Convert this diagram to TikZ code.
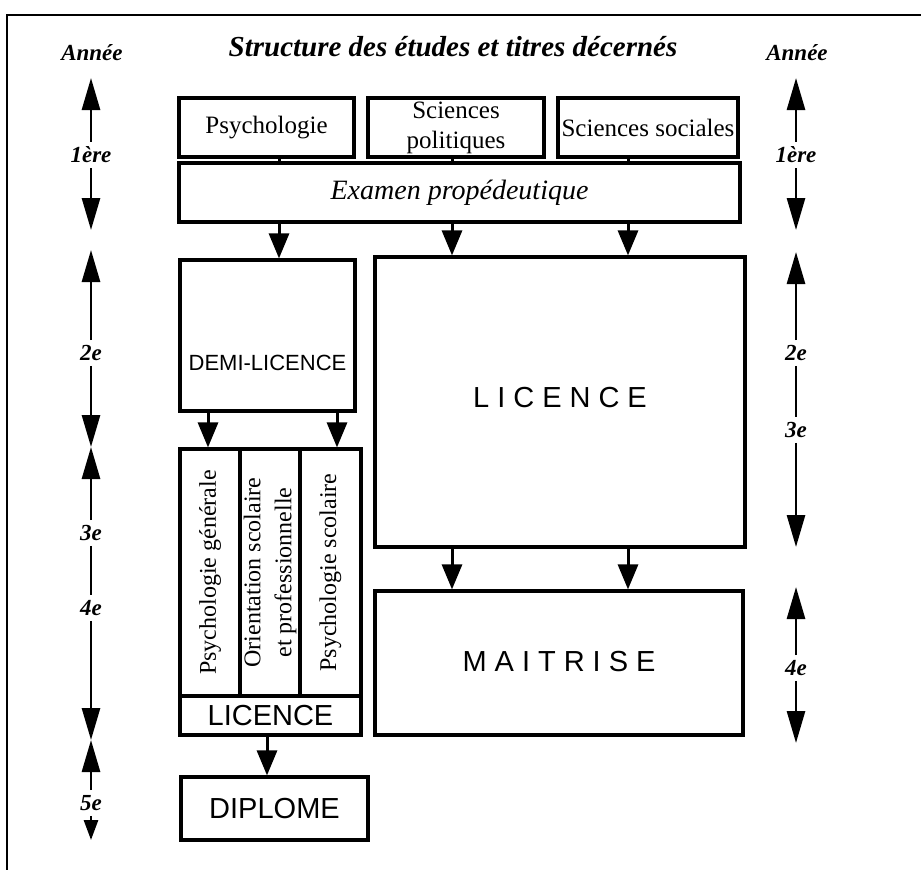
\documentclass[tikz,border=0pt]{standalone}
\usepackage{fontspec}
\setmainfont{Liberation Serif}
\newfontfamily\helv{Liberation Sans}
\usetikzlibrary{arrows.meta}
\begin{document}
\begin{tikzpicture}[x=1pt,y=-1pt,
  box/.style={draw, line width=3.2pt, inner sep=0pt, align=center, font=\fontsize{25}{30}\selectfont},
  sbox/.style={box, font=\helv\fontsize{29}{34}\selectfont},
  conn/.style={line width=3pt, -{Triangle[length=25pt,width=20pt]}},
  link/.style={line width=3pt},
  yr/.style={font=\bfseries\itshape\fontsize{23}{26}\selectfont, inner sep=5pt},
  yarr/.style={line width=2.8pt, -{Triangle[length=32pt,width=18pt]}},
  yline/.style={line width=2.8pt}]
\useasboundingbox (0,0) rectangle (921,870);
% frame
\draw[line width=2pt] (7,870) -- (7,15) -- (921,15);
% title
\node[font=\bfseries\itshape\fontsize{29}{34}\selectfont] (title) at (453,47) {Structure des études et titres décernés};
\node[yr] (anl) at (92,53) {Année};
\node[yr] (anr) at (797,53) {Année};
% top boxes
\node[box, minimum width=175pt, minimum height=59pt] (psy) at (266.5,127.5) {Psychologie};
\node[box, minimum width=176pt, minimum height=59pt] (spol) at (456,127.5) {Sciences\\politiques};
\node[box, minimum width=180pt, minimum height=59pt] (ssoc) at (648,127.5) {Sciences sociales};
\node[box, minimum width=561pt, minimum height=59pt, font=\itshape\fontsize{28}{32}\selectfont] (exam) at (459.5,192.5) {Examen propédeutique};
% second level
\node[sbox, minimum width=175pt, minimum height=151pt, label={[yshift=-27pt, font=\helv\fontsize{22}{26}\selectfont]center:DEMI-LICENCE}] (demi) at (267.5,335.5) {};
\node[sbox, minimum width=370pt, minimum height=290pt] (lic) at (560,402) {\raisebox{9pt}{L\kern8pt I\kern8pt C\kern8pt E\kern8pt N\kern8pt C\kern8pt E}};
\node[sbox, minimum width=368pt, minimum height=144pt] (mait) at (559,663) {\raisebox{3pt}{M\kern8pt A\kern8pt I\kern8pt T\kern8pt R\kern8pt I\kern8pt S\kern8pt E}};
% specialisations
\node[box, rotate=90, minimum width=247pt, minimum height=60pt, font=\fontsize{24}{31}\selectfont] (c1) at (210,572.5) {Psychologie générale};
\node[box, rotate=90, minimum width=247pt, minimum height=60pt, font=\fontsize{24}{31}\selectfont] (c2) at (270,572.5) {Orientation scolaire\\et professionnelle};
\node[box, rotate=90, minimum width=247pt, minimum height=61pt, font=\fontsize{24}{31}\selectfont] (c3) at (330.5,572.5) {Psychologie scolaire};
\node[sbox, minimum width=181pt, minimum height=39pt] (licp) at (270.5,715.5) {LICENCE};
\node[sbox, minimum width=187pt, minimum height=63pt] (dipl) at (274.5,808.5) {DIPLOME};
% connector x positions
\coordinate (xa) at (279,0);
\coordinate (xb) at (452,0);
\coordinate (xc) at (628,0);
\coordinate (xd) at (208,0);
\coordinate (xe) at (337,0);
\coordinate (xf) at (267,0);
\draw[link] (psy.south -| xa) -- (exam.north -| xa);
\draw[link] (spol.south -| xb) -- (exam.north -| xb);
\draw[link] (ssoc.south -| xc) -- (exam.north -| xc);
\draw[conn] (exam.south -| xa) -- (demi.north -| xa);
\draw[conn] (exam.south -| xb) -- (lic.north -| xb);
\draw[conn] (exam.south -| xc) -- (lic.north -| xc);
\draw[conn] (demi.south -| xd) -- (c1.east -| xd);
\draw[conn] (demi.south -| xe) -- (c3.east -| xe);
\draw[conn] (lic.south -| xb) -- (mait.north -| xb);
\draw[conn] (lic.south -| xc) -- (mait.north -| xc);
\draw[conn] (licp.south -| xf) -- (dipl.north -| xf);
% left year scale
\node[yr] (l1) at (91,155) {1ère};
\node[yr] (l2) at (91,353) {2e};
\node[yr] (l3) at (91,533) {3e};
\node[yr] (l4) at (91,608) {4e};
\node[yr] (l5) at (91,803) {5e};
\coordinate (lt1) at (91,78);
\coordinate (lb1) at (91,230);
\coordinate (lt2) at (91,250);
\coordinate (lb2) at (91,447);
\coordinate (lb4) at (91,740);
\coordinate (lb5) at (91,840);
\draw[yarr] (l1.north) -- (lt1);
\draw[yarr] (l1.south) -- (lb1);
\draw[yarr] (l2.north) -- (lt2);
\draw[yarr] (l2.south) -- (lb2);
\draw[yarr] (l3.north) -- (lb2);
\draw[yline] (l3.south) -- (l4.north);
\draw[yarr] (l4.south) -- (lb4);
\draw[yarr] (l5.north) -- (lb4);
\draw[line width=2.8pt, -{Triangle[length=20pt,width=14pt]}] (l5.south) -- (lb5);
% right year scale
\node[yr] (r1) at (796,155) {1ère};
\node[yr] (r2) at (796,353) {2e};
\node[yr] (r3) at (796,430) {3e};
\node[yr] (r4) at (796,668) {4e};
\coordinate (rt1) at (796,78);
\coordinate (rb1) at (796,230);
\coordinate (rt2) at (796,252);
\coordinate (rb3) at (796,547);
\coordinate (rt4) at (796,587);
\coordinate (rb4) at (796,743);
\draw[yarr] (r1.north) -- (rt1);
\draw[yarr] (r1.south) -- (rb1);
\draw[yarr] (r2.north) -- (rt2);
\draw[yline] (r2.south) -- (r3.north);
\draw[yarr] (r3.south) -- (rb3);
\draw[yarr] (r4.north) -- (rt4);
\draw[yarr] (r4.south) -- (rb4);
\end{tikzpicture}
\end{document}
